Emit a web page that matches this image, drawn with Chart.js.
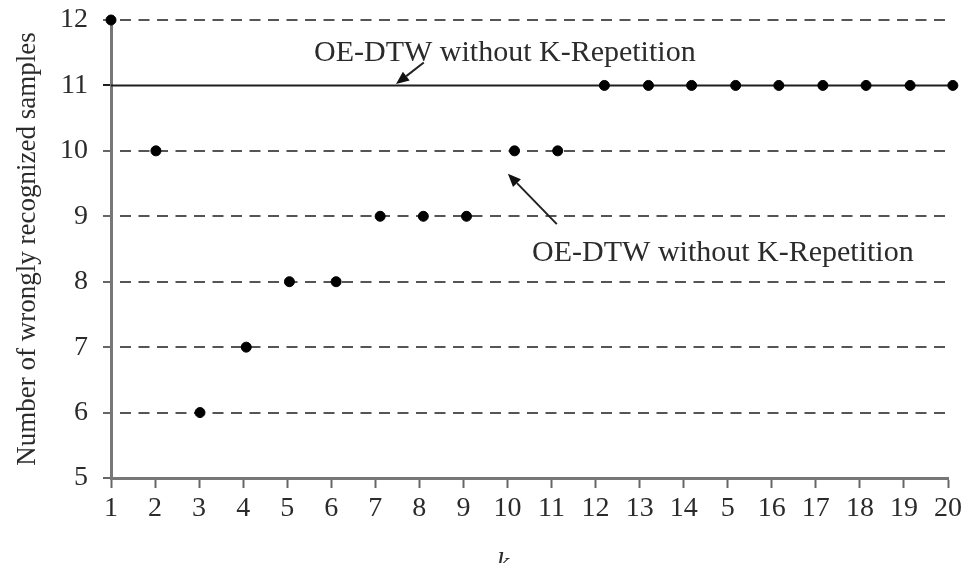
<!DOCTYPE html>
<html>
<head>
<meta charset="utf-8">
<script src="https://cdn.jsdelivr.net/npm/chart.js@4.4.1/dist/chart.umd.min.js"></script>
<style>
  html, body { margin: 0; padding: 0; background: #ffffff; }
  #wrap { width: 970px; height: 563px; position: relative; }
</style>
</head>
<body>
<div id="wrap"><canvas id="c" width="970" height="563"></canvas></div>
<script>
// ---- data ----
const kTickLabels = ['1','2','3','4','5','6','7','8','9','10','11','12','13','14','5','16','17','18','19','20'];
const kPositions = [1, 2.02, 3.02, 4.07, 5.05, 6.11, 7.11, 8.09, 9.07, 10.16, 11.14, 12.2, 13.2, 14.18, 15.18, 16.16, 17.16, 18.14, 19.14, 20.11];
const wrongSamples = [12, 10, 6, 7, 8, 8, 9, 9, 9, 10, 10, 11, 11, 11, 11, 11, 11, 11, 11, 11];
const withoutRepetitionLevel = 11;
const lineSpan = [1, 20];
const annotationText = 'OE-DTW without K-Repetition';
const yTitle = 'Number of wrongly recognized samples';
const xTitle = 'k';

const FONT = '"Liberation Serif", "Times New Roman", serif';
const TEXT_COLOR = '#2b2b2b';

const points = kPositions.map((x, i) => ({ x: x, y: wrongSamples[i] }));
const refLine = lineSpan.map(x => ({ x: x, y: withoutRepetitionLevel }));

// annotations in data coordinates
const notes = [
  { text: annotationText, tx: 9.94, ty: 11.37, ax1: 8.1, ay1: 11.35, ax2: 7.47, ay2: 11.02 },
  { text: annotationText, tx: 14.89, ty: 8.32, ax1: 11.12, ay1: 8.88, ax2: 10.01, ay2: 9.65 }
];

const annotatePlugin = {
  id: 'annotate',
  afterDatasetsDraw(chart) {
    const ctx = chart.ctx;
    const xs = chart.scales.x, ys = chart.scales.y;
    ctx.save();
    ctx.fillStyle = TEXT_COLOR;
    ctx.strokeStyle = '#222';
    ctx.font = '30px ' + FONT;
    ctx.textAlign = 'center';
    ctx.textBaseline = 'alphabetic';
    notes.forEach(n => {
      ctx.fillText(n.text, xs.getPixelForValue(n.tx), ys.getPixelForValue(n.ty));
      const x1 = xs.getPixelForValue(n.ax1), y1 = ys.getPixelForValue(n.ay1);
      const x2 = xs.getPixelForValue(n.ax2), y2 = ys.getPixelForValue(n.ay2);
      const ang = Math.atan2(y2 - y1, x2 - x1);
      const hl = 13, hw = 5.5;
      const bx = x2 - hl * Math.cos(ang), by = y2 - hl * Math.sin(ang);
      ctx.lineWidth = 2;
      ctx.beginPath();
      ctx.moveTo(x1, y1);
      ctx.lineTo(bx, by);
      ctx.stroke();
      ctx.beginPath();
      ctx.moveTo(x2, y2);
      ctx.lineTo(bx + hw * Math.sin(ang), by - hw * Math.cos(ang));
      ctx.lineTo(bx - hw * Math.sin(ang), by + hw * Math.cos(ang));
      ctx.closePath();
      ctx.fillStyle = '#111';
      ctx.fill();
      ctx.fillStyle = TEXT_COLOR;
    });
    // x axis title (italic k), partly cut at the bottom edge
    ctx.font = 'italic 28px ' + FONT;
    ctx.textAlign = 'center';
    ctx.fillText(xTitle, xs.getPixelForValue(9.9), xs.bottom + 8);
    ctx.restore();
  }
};

new Chart(document.getElementById('c'), {
  type: 'scatter',
  data: {
    datasets: [
      {
        type: 'line',
        label: 'OE-DTW without K-Repetition',
        data: refLine,
        borderColor: '#1e1e1e',
        borderWidth: 2,
        pointRadius: 0,
        fill: false,
        clip: false,
        order: 2
      },
      {
        label: 'OE-DTW with K-Repetition',
        data: points,
        backgroundColor: '#000',
        borderColor: '#000',
        pointRadius: 5,
        pointHoverRadius: 5,
        clip: false,
        order: 1
      }
    ]
  },
  options: {
    responsive: false,
    animation: false,
    events: [],
    layout: { padding: { top: 20, right: 22, left: 0, bottom: 0 } },
    plugins: { legend: { display: false }, tooltip: { enabled: false } },
    scales: {
      x: {
        type: 'linear',
        min: 1, max: 20,
        afterFit(s) { s.height = 85; s.paddingLeft = 0; s.paddingRight = 0; s.paddingTop = 0; s.paddingBottom = 0; },
        ticks: {
          stepSize: 1,
          autoSkip: false,
          maxRotation: 0,
          padding: 4,
          color: TEXT_COLOR,
          font: { family: FONT, size: 28 },
          callback: (v) => kTickLabels[Math.round(v) - 1]
        },
        grid: { drawOnChartArea: false, drawTicks: true, tickLength: 10, tickColor: '#666', tickWidth: 2 },
        border: { display: true, color: '#777', width: 3 }
      },
      y: {
        type: 'linear',
        min: 5, max: 12,
        afterFit(s) { s.width = 111; s.paddingTop = 0; s.paddingBottom = 0; s.paddingLeft = 0; s.paddingRight = 0; },
        ticks: {
          stepSize: 1,
          padding: 15,
          color: TEXT_COLOR,
          font: { family: FONT, size: 28 }
        },
        grid: {
          drawOnChartArea: true,
          drawTicks: true,
          tickLength: 8,
          lineWidth: 2,
          color: (c) => (c.tick && (c.tick.value === 11 || c.tick.value === 5)) ? 'rgba(0,0,0,0)' : '#555',
          tickColor: (c) => (c.tick && c.tick.value === 11) ? '#1e1e1e' : '#666',
          tickWidth: 2
        },
        border: { display: true, color: '#777', width: 3, dash: [11, 7.5], dashOffset: 11.5 },
        title: {
          display: true,
          text: yTitle,
          color: TEXT_COLOR,
          font: { family: FONT, size: 27 },
          padding: { top: 12, bottom: 0 }
        }
      }
    }
  },
  plugins: [annotatePlugin]
});
</script>
</body>
</html>
